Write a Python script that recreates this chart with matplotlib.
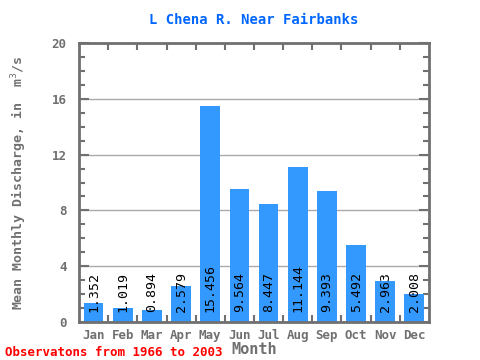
import matplotlib
matplotlib.use("Agg")
import matplotlib.pyplot as plt
from matplotlib.ticker import MultipleLocator, FixedLocator

months = ["Jan", "Feb", "Mar", "Apr", "May", "Jun", "Jul", "Aug", "Sep", "Oct", "Nov", "Dec"]
flows = [1.352, 1.019, 0.894, 2.579, 15.456, 9.564, 8.447, 11.144, 9.393, 5.492, 2.963, 2.008]
labels = ["1.352", "1.019", "0.894", "2.579", "15.456", "9.564", "8.447", "11.144", "9.393", "5.492", "2.963", "2.008"]

plt.rcParams["font.family"] = ["DejaVu Sans Mono"]
grey = "#707070"

fig = plt.figure(figsize=(4.8, 3.6), dpi=100)
ax = fig.add_axes([79 / 480, 1 - 322 / 360, 350 / 480, 279 / 360])

x = list(range(len(months)))
ax.bar(x, flows, width=0.68, color="#3399ff", zorder=2)
for i, v in enumerate(flows):
    ax.text(i, 0.7, labels[i], rotation=90, ha="center", va="bottom",
            fontsize=9.5, color="black", zorder=3)

ax.set_xlim(-0.5, 11.5)
ax.set_ylim(0, 20)
ax.yaxis.set_major_locator(MultipleLocator(4))
ax.yaxis.set_minor_locator(MultipleLocator(1))
ax.set_xticks(x)
ax.set_xticklabels(months, fontsize=9, color=grey, fontweight="bold")
ax.tick_params(axis="x", length=0, pad=5)
ax.xaxis.set_minor_locator(FixedLocator([i + 0.5 for i in range(11)]))
ax.tick_params(axis="x", which="minor", direction="in", length=5, width=1.5, color=grey,
               top=True, bottom=True)
ax.tick_params(axis="y", which="both", direction="in", color=grey, width=1.5,
               left=True, right=True, labelsize=9, labelcolor=grey, pad=9)
ax.tick_params(axis="y", which="major", length=7)
ax.tick_params(axis="y", which="minor", length=4)
for lab in ax.get_yticklabels():
    lab.set_fontweight("bold")
ax.grid(axis="y", which="major", color="#aaaaaa", linewidth=1, zorder=1)
for s in ax.spines.values():
    s.set_color(grey)
    s.set_linewidth(2)

ax.set_title("L Chena R. Near Fairbanks", color="#0066ff", fontsize=10,
             fontweight="bold", pad=14)
ax.set_xlabel("Month", color=grey, fontsize=11, fontweight="bold", labelpad=0)
ax.set_ylabel("Mean Monthly Discharge, in  m$^{3}$/s", color=grey, fontsize=9.5,
              fontweight="bold", labelpad=16)
fig.text(5 / 480, 1 - 352 / 360, "Observatons from 1966 to 2003", color="red",
         fontsize=9, fontweight="bold", va="center")

fig.savefig("out.png", dpi=100)
